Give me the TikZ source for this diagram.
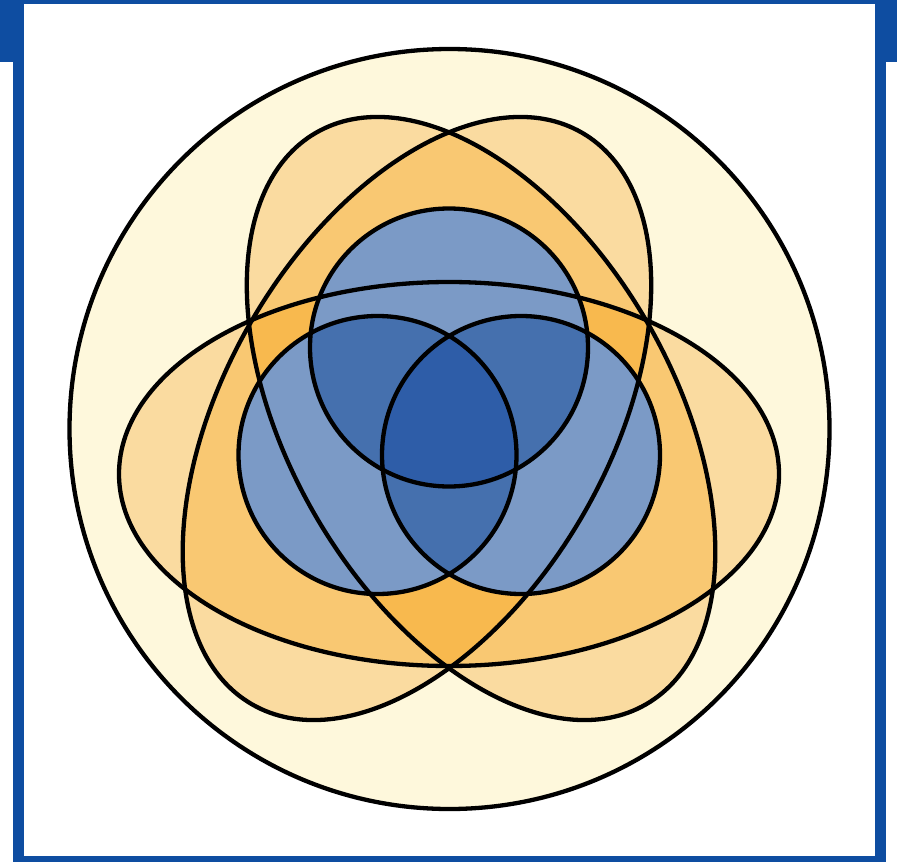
\documentclass[tikz,border=0pt]{standalone}
\usepackage{tikz}

\definecolor{frameblue}{HTML}{0E4DA1}
\definecolor{paleyellow}{HTML}{FEF8DC}
\definecolor{orangeA}{HTML}{FADBA0}
\definecolor{orangeB}{HTML}{F9C872}
\definecolor{orangeC}{HTML}{F8B94E}
\definecolor{blueA}{HTML}{7B9AC6}
\definecolor{blueB}{HTML}{4570AE}
\definecolor{blueC}{HTML}{2E5DA8}

% one orange petal, turned about the common centre
\newcommand{\petal}{(449,474) ellipse [x radius=330, y radius=192]}
\newcommand{\disc}[1]{(#1) circle [radius=139]}

\begin{document}
\begin{tikzpicture}[
x=1pt, y=-1pt,
outline/.style={draw=black, line width=4.3pt},
tilt/.style={rotate around={#1:(449,437)}},
tilt/.default=0
]
\useasboundingbox (0,0) rectangle (897,862);
\fill[white] (0,0) rectangle (897,862);

% frame
\fill[frameblue] (13,0) rectangle (886,862);
\fill[white] (24,4) rectangle (875,856);
\fill[frameblue] (0,0) rectangle (24,62);
\fill[frameblue] (875,0) rectangle (897,62);

\coordinate (ctop) at (449,347.5);
\coordinate (cleft) at (377.5,455);
\coordinate (cright) at (521,455);

% background disc
\fill[paleyellow] (449.5,429) circle [radius=380];

% petals
\foreach \a in {0,120,-120}
  \fill[orangeA, tilt=\a] \petal;
\begin{scope}
  \clip[tilt=0] \petal;
  \fill[orangeB, tilt=120] \petal;
  \fill[orangeB, tilt=-120] \petal;
\end{scope}
\begin{scope}
  \clip[tilt=120] \petal;
  \fill[orangeB, tilt=-120] \petal;
\end{scope}
\begin{scope}
  \clip[tilt=0] \petal;
  \clip[tilt=120] \petal;
  \fill[orangeC, tilt=-120] \petal;
\end{scope}

% blue discs
\foreach \c in {ctop,cleft,cright}
  \fill[blueA] \disc{\c};
\begin{scope}
  \clip \disc{ctop};
  \fill[blueB] \disc{cleft};
  \fill[blueB] \disc{cright};
\end{scope}
\begin{scope}
  \clip \disc{cleft};
  \fill[blueB] \disc{cright};
\end{scope}
\begin{scope}
  \clip \disc{ctop};
  \clip \disc{cleft};
  \fill[blueC] \disc{cright};
\end{scope}

% outlines
\draw[outline] (449.5,429) circle [radius=380];
\foreach \a in {0,120,-120}
  \draw[outline, tilt=\a] \petal;
\foreach \c in {ctop,cleft,cright}
  \draw[outline] \disc{\c};
\end{tikzpicture}
\end{document}
